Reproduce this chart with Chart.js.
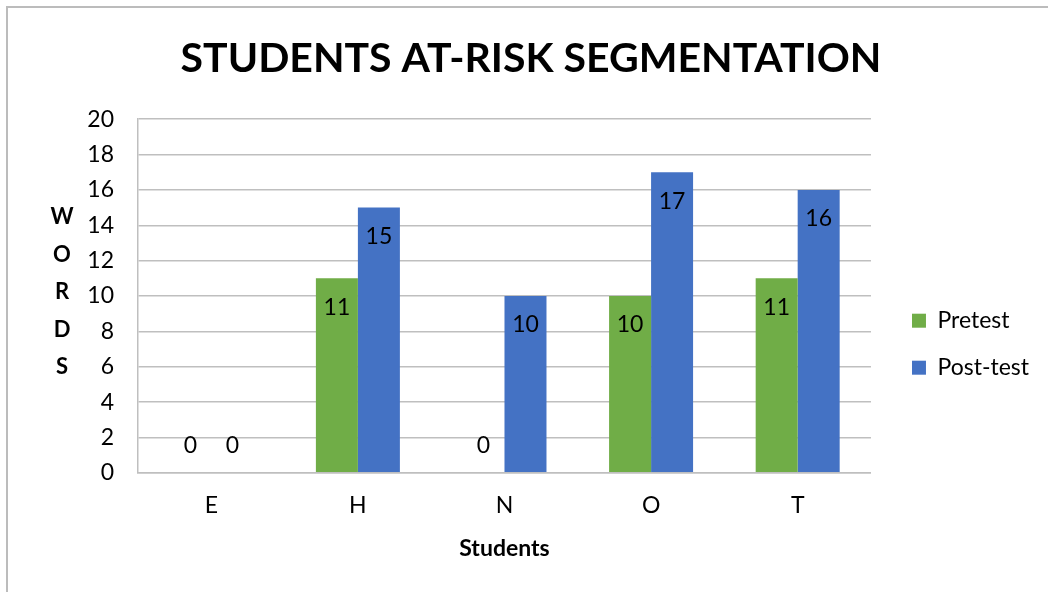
<!DOCTYPE html>
<html>
<head>
<meta charset="utf-8">
<script src="https://cdn.jsdelivr.net/npm/chart.js@4/dist/chart.umd.min.js"></script>
<style>
  html, body { margin: 0; padding: 0; background: #fff; }
  #wrap { position: relative; width: 1048px; height: 592px; }
  #frame { position: absolute; left: 6px; top: 6px; right: -10px; bottom: -10px;
           border-left: 2px solid #bcbcbc; border-top: 2px solid #bcbcbc; }
  canvas { position: absolute; left: 0; top: 0; }
</style>
</head>
<body>
<div id="wrap">
  <div id="frame"></div>
  <canvas id="chart" width="1048" height="592"></canvas>
</div>
<script>
const students = ['E', 'H', 'N', 'O', 'T'];
const pretest = [0, 11, 0, 10, 11];
const posttest = [0, 15, 10, 17, 16];
const yLetters = ['W', 'O', 'R', 'D', 'S'];

const FONT = 'Lato, "Open Sans", sans-serif';

// etiquetas dentro das barras (no topo), zero fica acima da base
const barLabels = {
  id: 'barLabels',
  afterDatasetsDraw(chart) {
    const ctx = chart.ctx;
    ctx.save();
    ctx.font = '23px ' + FONT;
    ctx.fillStyle = '#000';
    ctx.textAlign = 'center';
    ctx.textBaseline = 'middle';
    chart.data.datasets.forEach((ds, i) => {
      chart.getDatasetMeta(i).data.forEach((bar, j) => {
        const v = ds.data[j];
        const y = v === 0 ? bar.base - 27 : bar.y + 29;
        ctx.fillText(String(v), bar.x, y);
      });
    });
    ctx.restore();
  }
};

// titulo do eixo Y com letras empilhadas
const stackedYTitle = {
  id: 'stackedYTitle',
  afterDraw(chart) {
    const ctx = chart.ctx;
    ctx.save();
    ctx.font = 'bold 22px ' + FONT;
    ctx.fillStyle = '#000';
    ctx.textAlign = 'center';
    ctx.textBaseline = 'middle';
    yLetters.forEach((ch, i) => ctx.fillText(ch, 62, 217 + i * 37.5));
    ctx.restore();
  }
};

// empurra a legenda um pouco para a direita, sem mexer na area do grafico
const legendShift = {
  id: 'legendShift',
  afterLayout(chart) {
    const lg = chart.legend;
    if (!lg) return;
    lg.left += 17;
    lg.right += 17;
    (lg.legendHitBoxes || []).forEach(b => { b.left += 17; });
  }
};

new Chart(document.getElementById('chart'), {
  type: 'bar',
  data: {
    labels: students,
    datasets: [
      { label: 'Pretest', data: pretest, backgroundColor: '#70ad47' },
      { label: 'Post-test', data: posttest, backgroundColor: '#4472c4' }
    ]
  },
  options: {
    responsive: false,
    animation: false,
    layout: { padding: { left: 40, right: 26, top: 0, bottom: 30 } },
    datasets: { bar: { categoryPercentage: 0.573, barPercentage: 1 } },
    scales: {
      x: {
        grid: { display: false, drawTicks: false },
        border: { display: true, color: '#bfbfbf', width: 1.5 },
        ticks: { color: '#000', font: { family: FONT, size: 23 }, padding: 19 },
        title: { display: true, text: 'Students', color: '#000',
                 font: { family: FONT, size: 23, weight: 'bold' }, padding: { top: -4, bottom: 0 } }
      },
      y: {
        min: 0, max: 20,
        afterFit(scale) { scale.width = 98; },
        grid: { color: '#bfbfbf', lineWidth: 1.5, drawTicks: false },
        border: { display: true, color: '#bfbfbf', width: 1.5 },
        ticks: { stepSize: 2, color: '#000', font: { family: FONT, size: 23 }, padding: 24 }
      }
    },
    plugins: {
      title: {
        display: true, text: 'STUDENTS AT-RISK SEGMENTATION', color: '#000',
        font: { family: FONT, size: 41, weight: 'bold' },
        padding: { top: 34, bottom: 36 }
      },
      legend: {
        position: 'right',
        title: { display: true, text: ' ', padding: { top: 112, bottom: 0 } },
        labels: { color: '#000', font: { family: FONT, size: 23 },
                  boxWidth: 14, boxHeight: 14, padding: 24 }
      },
      tooltip: { enabled: false }
    }
  },
  plugins: [barLabels, stackedYTitle, legendShift]
});
</script>
</body>
</html>
